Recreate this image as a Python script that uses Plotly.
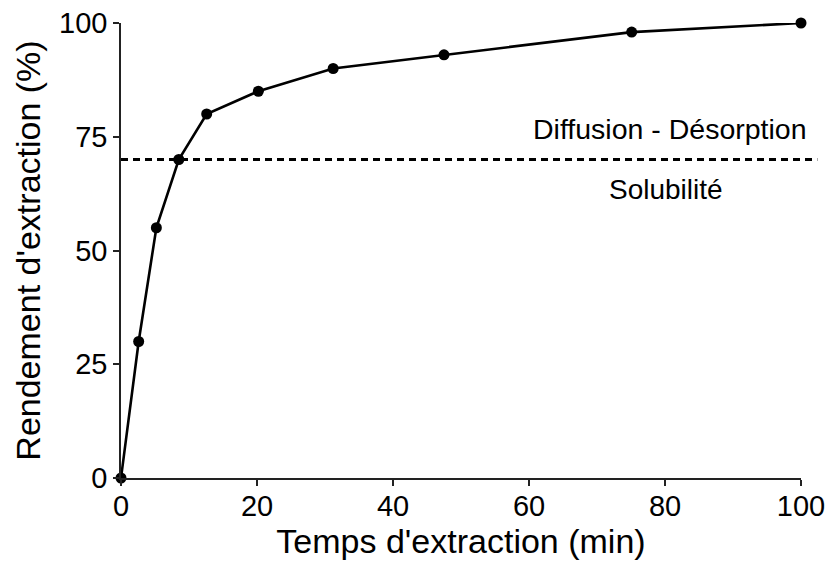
import plotly.graph_objects as go

time_min = [0, 2.6, 5.2, 8.5, 12.6, 20.2, 31.2, 47.5, 75.1, 100]
yield_pct = [0, 30, 55, 70, 80, 85, 90, 93, 98, 100]
threshold = 70
x_ticks = [0, 20, 40, 60, 80, 100]
y_ticks = [0, 25, 50, 75, 100]
label_above = "Diffusion - Désorption"
label_below = "Solubilité"

FONT = "Liberation Sans, Arial, sans-serif"

fig = go.Figure()
fig.add_trace(go.Scatter(
    x=time_min, y=yield_pct, mode="lines+markers",
    line=dict(color="black", width=2.6),
    marker=dict(color="black", size=11),
    cliponaxis=False, showlegend=False,
))

fig.add_shape(type="line", xref="paper", yref="y",
              x0=0, x1=1.024, y0=threshold, y1=threshold,
              line=dict(color="black", width=3.2, dash="7px,5px"))

fig.add_annotation(x=80.8, y=76.8, xref="x", yref="y", text=label_above,
                   showarrow=False, font=dict(size=28.5, color="black", family=FONT))
fig.add_annotation(x=80.2, y=63.5, xref="x", yref="y", text=label_below,
                   showarrow=False, font=dict(size=28, color="black", family=FONT))

axis_common = dict(
    showline=True, linecolor="#222", linewidth=1.5,
    ticks="outside", ticklen=6, tickwidth=1.5, tickcolor="#222",
    showgrid=False, zeroline=False, automargin=False,
    tickfont=dict(size=29, color="black", family=FONT),
)

fig.update_xaxes(range=[0, 100], tickvals=x_ticks, ticklabelstandoff=-5,
                 title=dict(text="Temps d'extraction (min)", standoff=6,
                            font=dict(size=34, color="black", family=FONT)),
                 **axis_common)
fig.update_yaxes(range=[0, 100], tickvals=y_ticks,
                 title=dict(text="Rendement d'extraction (%)", standoff=8,
                            font=dict(size=34, color="black", family=FONT)),
                 **axis_common)

fig.update_layout(
    width=827, height=568,
    margin=dict(l=121, r=26, t=23, b=90),
    plot_bgcolor="white", paper_bgcolor="white",
)

fig.write_html("out.html")
